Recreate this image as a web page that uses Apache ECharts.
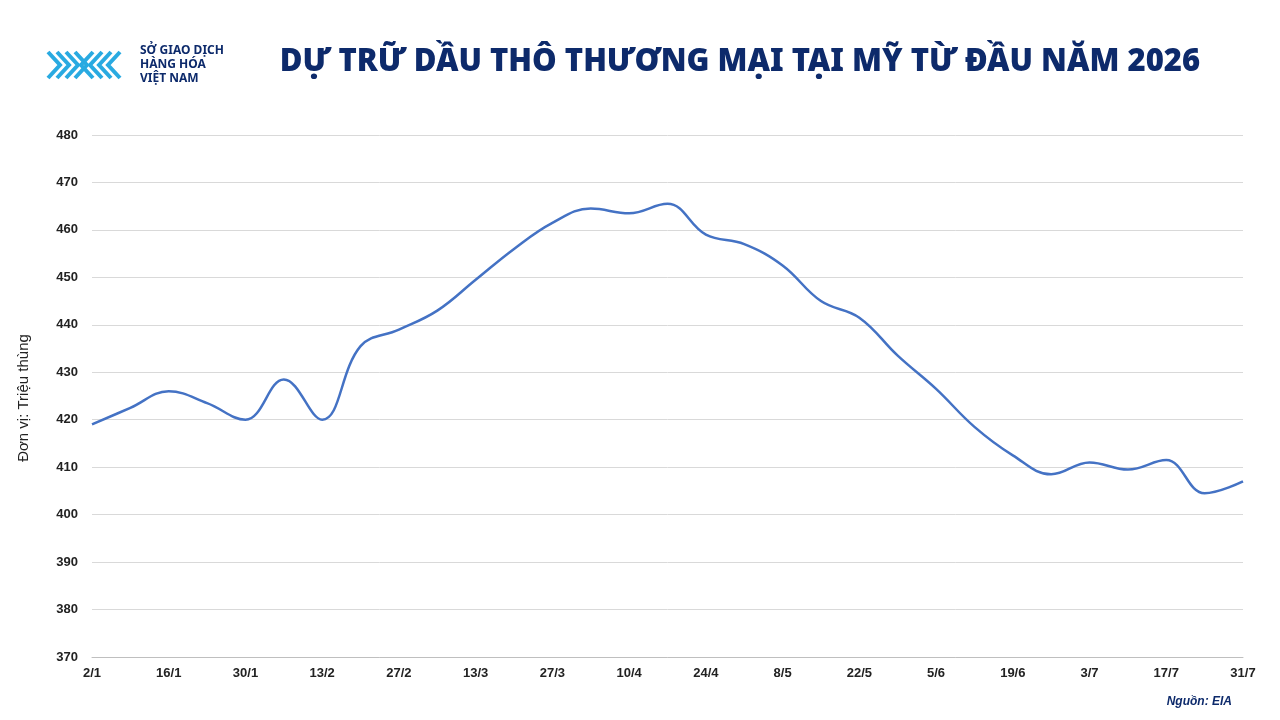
<!DOCTYPE html>
<html><head><meta charset="utf-8">
<script src="https://cdn.jsdelivr.net/npm/echarts@6/dist/echarts.min.js"></script>
<style>html,body{margin:0;padding:0;background:#fff}#c{width:1280px;height:720px}</style>
</head><body><div id="c"></div>
<script>
const categories = ["2/1","9/1","16/1","23/1","30/1","6/2","13/2","20/2","27/2","6/3","13/3","20/3","27/3","3/4","10/4","17/4","24/4","1/5","8/5","15/5","22/5","29/5","5/6","12/6","19/6","26/6","3/7","10/7","17/7","24/7","31/7"];
const stocks = [419,422.5,426,423.5,420,428.5,420,435.5,439,443,449.5,456,461.5,464.5,463.5,465.5,459,457,452.5,445,441.5,433.5,426.5,418.5,412.5,408.5,411,409.5,411.5,404.5,407];
const yTicks = {min:370,max:480,interval:10};
const chart = echarts.init(document.getElementById('c'));
const chev = [];
for (let i=0;i<4;i++){
  chev.push({type:'polyline',shape:{points:[[48+i*9,52],[60+i*9,65],[48+i*9,78]]},style:{stroke:'#29aae1',lineWidth:4,fill:null}});
  chev.push({type:'polyline',shape:{points:[[120-i*9,52],[108-i*9,65],[120-i*9,78]]},style:{stroke:'#29aae1',lineWidth:4,fill:null}});
}
chart.setOption({
  animation:false,
  title:{text:'DỰ TRỮ DẦU THÔ THƯƠNG MẠI TẠI MỸ TỪ ĐẦU NĂM 2026',left:735,top:42,textAlign:'center',
    textStyle:{fontFamily:'Noto Sans',fontWeight:900,fontSize:31,color:'#0d2a6b'}},
  graphic:[...chev,
    {type:'text',left:140,top:44,style:{text:'SỞ GIAO DỊCH\nHÀNG HÓA\nVIỆT NAM',font:'bold 12px "Noto Sans"',fill:'#0d2a6b',lineHeight:14}},
    {type:'text',right:48,top:696,style:{text:'Nguồn: EIA',font:'italic bold 12px "Liberation Sans"',fill:'#0d2a6b'}},
    {type:'text',x:24,y:398,rotation:Math.PI/2,style:{text:'Đơn vị: Triệu thùng',font:'15px "Liberation Sans"',fill:'#222',align:'center',verticalAlign:'middle'}}
  ],
  grid:{left:92,right:37,top:135,bottom:63},
  xAxis:{type:'category',data:categories,boundaryGap:false,
    axisLine:{lineStyle:{color:'#bfbfbf'}},axisTick:{show:false},
    axisLabel:{interval:1,color:'#222',fontWeight:'bold',fontSize:13,fontFamily:'Liberation Sans',margin:10}},
  yAxis:{type:'value',min:yTicks.min,max:yTicks.max,interval:yTicks.interval,
    axisLabel:{color:'#222',fontWeight:'bold',fontSize:13,fontFamily:'Liberation Sans',margin:14},
    splitLine:{lineStyle:{color:'#d9d9d9'}}},
  series:[{type:'line',data:stocks,smooth:0.4,showSymbol:false,lineStyle:{color:'#4472c4',width:2.5}}]
});
</script></body></html>
